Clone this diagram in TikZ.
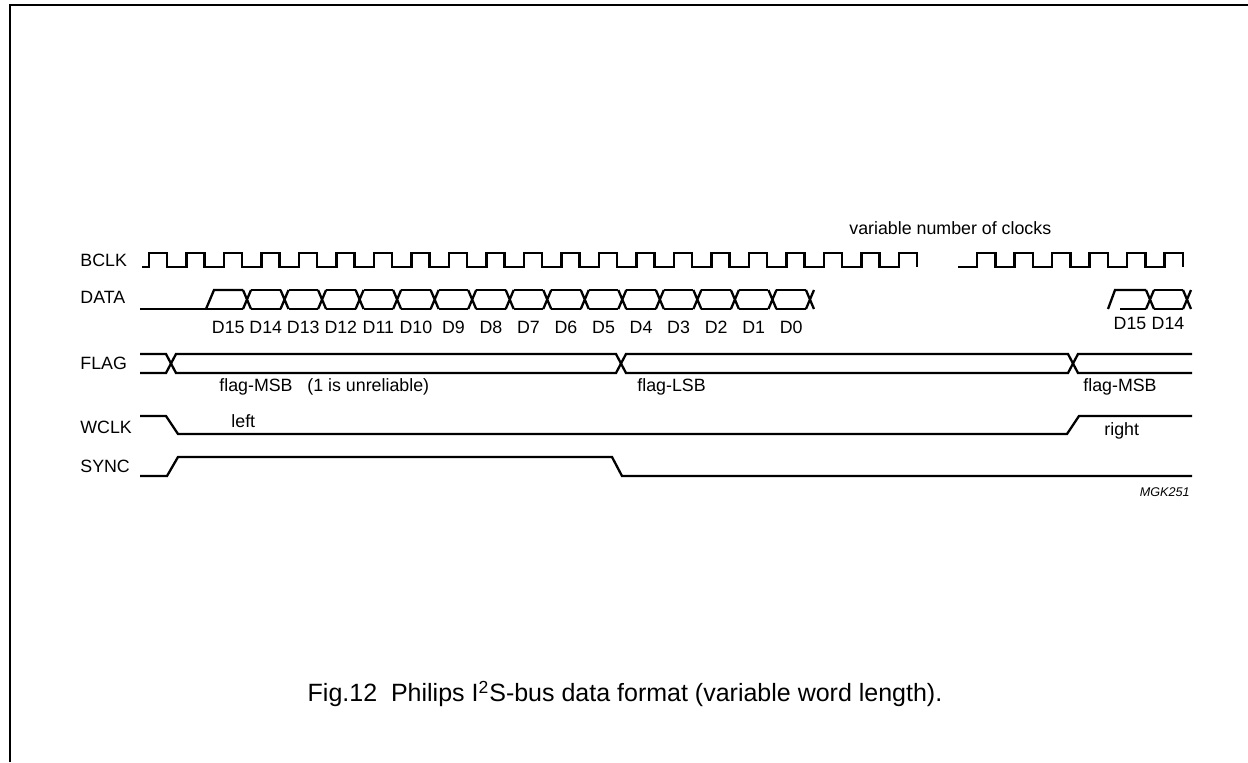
\documentclass[tikz,border=0pt]{standalone}
\usepackage{fontspec}
\setmainfont{Liberation Sans}
\usetikzlibrary{positioning}

\begin{document}
\begin{tikzpicture}[
  x=0.5pt,y=-0.5pt,
  wave/.style={line width=1.15pt},
  siglabel/.style={anchor=west,inner sep=0pt,font=\fontsize{8.9}{10}\selectfont},
  dlabel/.style={inner sep=0pt,font=\fontsize{8.9}{10}\selectfont},
  note/.style={anchor=west,inner sep=0pt,font=\fontsize{8.9}{10}\selectfont}
  ]
  \useasboundingbox (0,0) rectangle (1248,762);
  % frame
  \draw[line width=1pt] (10,762) -- (10,5) -- (1248,5);

  % signal names
  \node[siglabel] (bclk) at (80,260) {BCLK};
  \node[siglabel] (data) at (80,297) {DATA};
  \node[siglabel] (flag) at (80,363) {FLAG};
  \node[siglabel] (wclk) at (80,427) {WCLK};
  \node[siglabel] (sync) at (80,466) {SYNC};

  % BCLK
  \draw[wave] (142,267) \foreach \k in {0,...,20} {
    -- ({149+37.5*\k},267) -- ({149+37.5*\k},253) -- ({167+37.5*\k},253) -- ({167+37.5*\k},267) };
  \draw[wave] (958,267) \foreach \k in {0,...,5} {
    -- ({977+37.5*\k},267) -- ({977+37.5*\k},253) -- ({995.5+37.5*\k},253) -- ({995.5+37.5*\k},267) };
  \node[note] (varclk) at (849,228) {variable number of clocks};

  % DATA
  \draw[wave] (140,309) -- (243,309);
  \draw[wave] (206,309) -- (214,290) -- (243,290);
  \foreach \k in {0,...,15} {
    \pgfmathsetmacro\c{247+37.53*\k}
    \draw[wave] ({\c-4},290) -- ({\c+4},309) ({\c-4},309) -- ({\c+4},290);
  }
  \foreach \k in {0,...,14} {
    \pgfmathsetmacro\c{247+37.53*\k}
    \draw[wave] ({\c+4},290) -- ({\c+33.53},290) ({\c+4},309) -- ({\c+33.53},309);
  }
  \foreach \n [count=\i from 0] in {15,14,...,0}
    \node[dlabel] (d\n) at ({247+37.53*(\i-0.5)},327) {D\n};

  \draw[wave] (1108,309) -- (1115,290) -- (1146,290);
  \draw[wave] (1120,309) -- (1146,309);
  \draw[wave] (1146,290) -- (1154,309) (1146,309) -- (1154,290);
  \draw[wave] (1154,290) -- (1183,290) (1154,309) -- (1183,309);
  \draw[wave] (1183,290) -- (1191,309) (1183,309) -- (1191,290);
  \node[dlabel] (r15) at (1130,323) {D15};
  \node[dlabel] (r14) at (1168,323) {D14};

  % FLAG
  \draw[wave] (140,354) -- (166,354) -- (176,373) -- (616,373) -- (626,354) -- (1068,354) -- (1078,373) -- (1192,373);
  \draw[wave] (140,373) -- (166,373) -- (176,354) -- (616,354) -- (626,373) -- (1068,373) -- (1078,354) -- (1192,354);
  \node[note] (fmsb) at (219,387) {flag-MSB\ \ \ (1 is unreliable)};
  \node[note] (flsb) at (637,387) {flag-LSB};
  \node[note] (fmsb2) at (1083,387) {flag-MSB};

  % WCLK
  \draw[wave] (140,416) -- (166,416) -- (178,434) -- (1067,434) -- (1079,416) -- (1192,416);
  \node[note] (left) at (231,421) {left};
  \node[note] (right) at (1104,431) {right};

  % SYNC
  \draw[wave] (140,476) -- (167,476) -- (178,457) -- (612,457) -- (622,476) -- (1192,476);

  \node[anchor=east,inner sep=0pt,font=\fontsize{6.3}{7}\selectfont\itshape] (mgk) at (1190,492) {MGK251};
  \node[inner sep=0pt,font=\fontsize{12.5}{14}\selectfont] (caption) at (625,694)
    {Fig.12\ \ Philips I\textsuperscript{2}S-bus data format (variable word length).};
\end{tikzpicture}
\end{document}
